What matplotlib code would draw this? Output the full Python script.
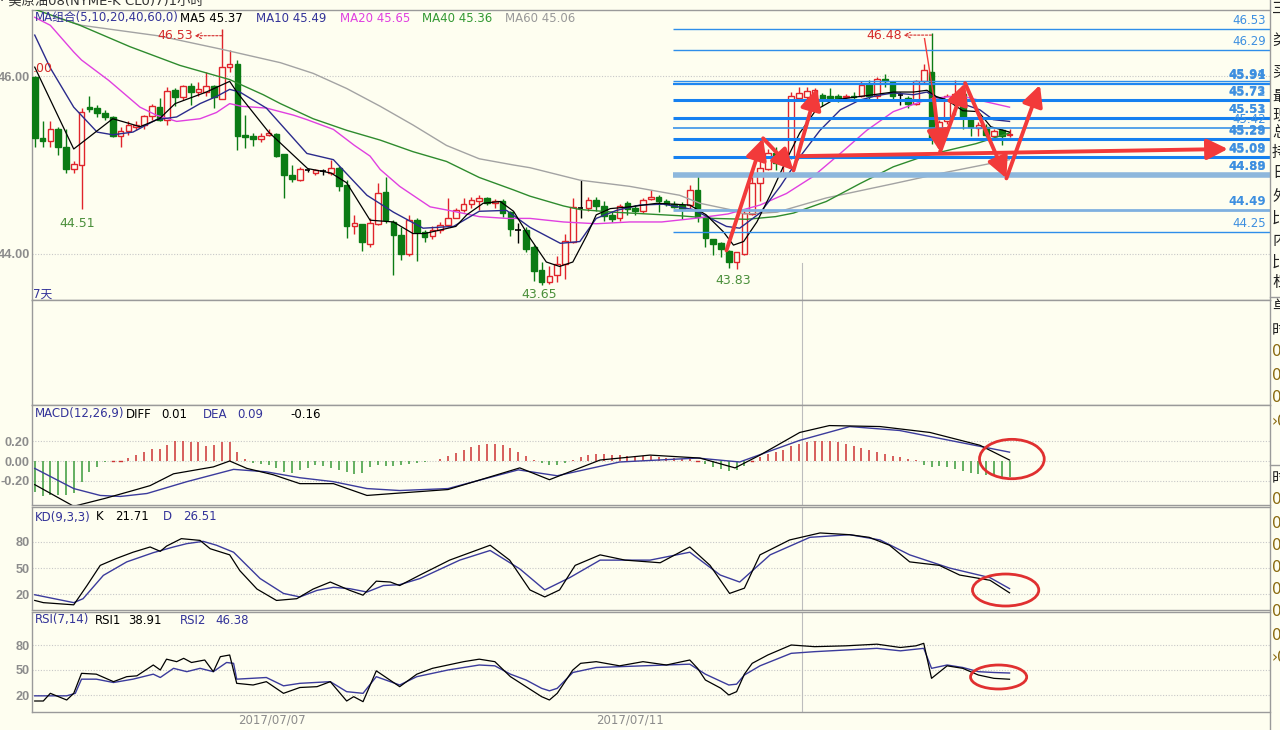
import matplotlib
matplotlib.use("Agg")
import matplotlib.pyplot as plt
from matplotlib.patches import Rectangle, Ellipse
from matplotlib.lines import Line2D

plt.rcParams["font.family"] = ["DejaVu Sans", "Noto Sans CJK SC"]

# ---------------- data ----------------
opens = [45.99,45.30,45.27,45.41,45.20,44.96,45.00,45.65,45.64,45.59,
45.54,45.33,45.38,45.43,45.45,45.55,45.65,45.51,45.84,45.76,
45.89,45.82,45.82,45.89,45.74,46.10,46.14,45.34,45.33,45.29,
45.34,45.35,45.12,44.89,44.83,44.94,44.91,44.93,44.91,44.97,
44.78,44.31,44.34,44.11,44.34,44.70,44.36,44.21,44.00,44.38,
44.25,44.20,44.27,44.33,44.41,44.49,44.56,44.60,44.63,44.57,
44.59,44.47,44.27,44.27,44.08,43.82,43.69,43.76,43.89,44.14,
44.52,44.52,44.61,44.54,44.44,44.40,44.57,44.52,44.48,44.62,
44.64,44.59,44.56,44.55,44.55,44.72,44.42,44.17,44.12,44.03,
43.91,44.00,44.45,44.80,44.96,45.13,45.03,45.09,45.75,45.76,
45.78,45.79,45.77,45.77,45.76,45.77,45.78,45.91,45.77,45.97,
45.93,45.79,45.75,45.69,45.94,46.05,45.30,45.49,45.75,45.80,
45.52,45.42,45.43,45.33,45.39,45.34]
highs = [46.00,45.49,45.49,45.43,45.41,45.04,45.64,45.78,45.67,45.62,
45.55,45.43,45.49,45.49,45.56,45.69,45.75,45.88,45.86,45.90,
45.92,45.93,46.05,45.90,46.53,46.29,46.18,45.56,45.36,45.36,
45.41,45.36,45.12,45.00,44.98,44.96,44.96,44.95,45.06,44.99,
44.83,44.44,44.34,44.40,44.80,44.86,44.38,44.30,44.44,44.40,
44.27,44.31,44.36,44.63,44.52,44.63,44.64,44.66,44.64,44.62,
44.62,44.48,44.35,44.30,44.10,43.91,43.86,43.98,44.22,44.63,
44.83,44.64,44.64,44.60,44.48,44.56,44.59,44.55,44.63,44.72,
44.66,44.62,44.59,44.58,44.78,44.89,44.44,44.17,44.14,44.04,
44.00,44.51,44.92,45.04,45.18,45.20,45.13,45.82,45.88,45.88,
45.87,45.81,45.87,45.80,45.80,45.82,45.94,45.95,45.99,46.02,
45.94,45.82,45.78,45.96,46.14,46.48,45.51,45.80,45.95,45.84,
45.54,45.48,45.46,45.40,45.41,45.40]
lows = [45.20,45.20,45.20,45.11,44.91,44.91,44.51,45.60,45.54,45.51,
45.31,45.20,45.34,45.39,45.41,45.51,45.49,45.45,45.66,45.73,
45.67,45.77,45.77,45.64,45.74,46.04,45.17,45.19,45.21,45.26,
45.33,45.09,44.63,44.81,44.82,44.92,44.89,44.89,44.89,44.71,
44.18,44.23,44.03,44.08,44.33,44.35,43.76,43.93,43.98,43.92,
44.13,44.17,44.24,44.30,44.40,44.47,44.52,44.50,44.55,44.52,
44.42,44.20,44.12,44.02,43.70,43.65,43.66,43.68,43.72,44.12,
44.40,44.48,44.48,44.37,44.36,44.37,44.44,44.44,44.46,44.61,
44.47,44.54,44.52,44.39,44.52,44.36,44.08,43.99,43.97,43.84,
43.83,43.99,44.44,44.59,44.94,44.94,44.89,45.07,45.72,45.73,
45.75,45.66,45.73,45.71,45.73,45.74,45.76,45.74,45.74,45.88,
45.72,45.67,45.64,45.68,45.92,45.24,45.24,45.46,45.56,45.41,
45.33,45.33,45.32,45.30,45.22,45.32]
closes = [45.30,45.27,45.41,45.20,44.96,45.01,45.60,45.63,45.59,45.54,
45.33,45.38,45.45,45.45,45.55,45.66,45.51,45.83,45.76,45.89,
45.82,45.85,45.89,45.76,46.10,46.14,45.33,45.31,45.29,45.33,
45.36,45.10,44.89,44.84,44.96,44.94,44.94,44.93,44.97,44.76,
44.31,44.35,44.13,44.35,44.69,44.38,44.21,44.00,44.38,44.25,
44.19,44.27,44.33,44.40,44.49,44.56,44.61,44.63,44.57,44.60,
44.46,44.28,44.27,44.06,43.81,43.69,43.75,43.89,44.15,44.53,
44.52,44.61,44.54,44.43,44.39,44.54,44.51,44.48,44.61,44.64,
44.59,44.56,44.53,44.51,44.72,44.42,44.18,44.11,44.06,43.91,
44.02,44.46,44.80,44.97,45.13,45.02,45.10,45.78,45.81,45.83,
45.84,45.74,45.75,45.74,45.78,45.76,45.90,45.77,45.97,45.94,
45.77,45.79,45.69,45.94,46.07,45.30,45.48,45.78,45.80,45.54,
45.43,45.45,45.34,45.38,45.33,45.35]

ma5_x = [0,5,10,12,13.5,16,18,22,25,26,30,35,38,40,43,46,48.5,50,54,55.4,57.5,59.7,61.4,63.5,65.6,67.3,69,70.8,72,73.8,76.3,79.8,84,86.1,88.3,89.6,90.9,92.6,94.3,96.4,98.1,100.2,102.4,105.8,110.1,112.7,114.4,115.6,117,119,121,122.6,125]
ma5_y = [46.10,45.18,45.52,45.47,45.43,45.52,45.69,45.82,45.94,45.81,45.37,44.96,44.91,44.80,44.38,44.36,44.23,44.23,44.31,44.44,44.57,44.59,44.48,44.18,43.91,43.86,43.91,44.21,44.44,44.51,44.53,44.57,44.55,44.44,44.25,44.10,44.14,44.36,44.66,45.06,45.36,45.62,45.73,45.77,45.82,45.82,45.84,45.77,45.73,45.61,45.60,45.43,45.37]
ma10_x = [0,2,5,8,10,12.6,15.6,18.2,21.2,23.3,25,26.3,29.7,34.9,38.3,42.6,46,49.8,53.7,57,60.5,63.5,67.4,69.9,72,74.6,77.6,80.6,84.4,88.7,90.4,93,95.6,98.1,100.7,103.3,105.8,108,110.1,112.7,114.4,115.6,118.6,121.2,122.9,125]
ma10_y = [46.46,46.09,45.65,45.37,45.34,45.37,45.51,45.54,45.69,45.77,45.85,45.82,45.64,45.13,45.06,44.66,44.47,44.29,44.31,44.48,44.49,44.30,44.12,44.14,44.40,44.49,44.55,44.56,44.50,44.31,44.29,44.46,44.76,45.09,45.39,45.62,45.73,45.78,45.81,45.79,45.82,45.76,45.70,45.62,45.51,45.49]
ma20_x = [0,2,5,6,9.5,13.5,15.6,18.2,21.2,23.3,25,26.5,29.7,33.2,34.9,38.3,41,43,44.3,46.8,50.7,53.7,57,60.5,63.5,67.8,72,76.3,80.4,84.6,88.9,93,96.4,99.8,103.3,106.7,110.1,113.6,115.3,118.6,122,125]
ma20_y = [46.66,46.57,46.27,46.18,45.95,45.65,45.56,45.49,45.52,45.59,45.69,45.66,45.64,45.56,45.51,45.40,45.22,45.10,44.95,44.76,44.53,44.48,44.42,44.40,44.40,44.36,44.34,44.36,44.36,44.40,44.45,44.55,44.68,44.87,45.13,45.39,45.60,45.71,45.75,45.78,45.71,45.65]
ma40_x = [0,5.8,12.2,18.6,25,29.3,31.5,35.7,40,44.3,48.5,52.8,57,61.4,63.5,67.8,69.9,74.2,78.5,82.7,87,91.3,95,97.3,101.5,105.8,110.1,114.4,116.4,120.7,125]
ma40_y = [46.75,46.57,46.33,46.12,45.96,45.79,45.69,45.52,45.39,45.28,45.15,45.04,44.86,44.72,44.65,44.54,44.50,44.47,44.45,44.43,44.40,44.39,44.42,44.46,44.59,44.79,44.98,45.11,45.15,45.24,45.36]
ma60_x = [3,6,16,24,31.5,35.7,40,44.3,48.5,52.8,57,61.4,63.5,69.9,76.3,82.7,85.3,89.1,91,93.4,95.2,101.5,110.1,116.4,125]
ma60_y = [46.65,46.57,46.45,46.30,46.15,46.03,45.86,45.66,45.45,45.22,45.07,45.00,44.97,44.83,44.76,44.66,44.57,44.50,44.45,44.46,44.47,44.63,44.79,44.91,45.06]

macd_hist = [-0.31,-0.36,-0.35,-0.35,-0.35,-0.33,-0.21,-0.11,-0.06,-0.01,
0.0,0.0,0.03,0.06,0.095,0.12,0.12,0.16,0.20,0.20,
0.19,0.19,0.15,0.16,0.19,0.19,0.09,0.02,-0.017,-0.03,
-0.04,-0.075,-0.11,-0.12,-0.09,-0.075,-0.04,-0.05,-0.075,-0.09,
-0.11,-0.13,-0.12,-0.06,-0.04,-0.047,-0.05,-0.04,-0.03,-0.02,
-0.01,0.005,0.02,0.05,0.08,0.11,0.14,0.16,0.17,0.17,
0.16,0.13,0.09,0.05,0.01,-0.02,-0.04,-0.04,-0.02,0.01,
0.04,0.06,0.07,0.07,0.06,0.06,0.05,0.05,0.05,0.05,
0.04,0.03,0.03,0.02,0.02,0.0,-0.03,-0.06,-0.08,-0.10,
-0.09,-0.05,0.0,0.04,0.07,0.09,0.11,0.15,0.17,0.19,
0.20,0.20,0.20,0.19,0.17,0.15,0.13,0.11,0.09,0.07,
0.05,0.04,0.02,0.01,-0.04,-0.06,-0.05,-0.06,-0.08,-0.10,
-0.12,-0.13,-0.14,-0.15,-0.16,-0.16]
diff_x = [0,5,9,12.6,14.8,17.8,22.9,25,27.2,30.6,34,38.3,42.6,46,53,62.2,66,72.5,78.9,85.3,89.8,93,98.1,101.9,108.4,114.8,121.2,125]
diff_y = [-0.24,-0.46,-0.38,-0.30,-0.25,-0.13,-0.06,0.0,-0.075,-0.14,-0.23,-0.23,-0.35,-0.33,-0.29,-0.07,-0.19,0.01,0.06,0.03,-0.07,0.06,0.29,0.36,0.35,0.29,0.16,0.01]
dea_x = [0,5,8.4,11,14.4,19.5,25.5,29.7,34,38.3,42.6,46.8,53,62,67,75,85,90.4,98.1,104.5,110.9,117.3,125]
dea_y = [-0.075,-0.28,-0.35,-0.36,-0.33,-0.21,-0.085,-0.11,-0.17,-0.21,-0.28,-0.30,-0.28,-0.09,-0.15,-0.01,0.03,-0.01,0.21,0.35,0.31,0.21,0.09]

k_x = [0,1.1,5,6.7,8.4,10.5,12.6,14.8,16.1,16.9,18.8,21.2,22.5,25,26.3,28.5,31,33.6,35.7,37.9,40.4,42.1,43.8,45.6,46.8,49.4,53.2,58.4,60.9,63.5,65.4,67.3,69.3,72.5,75.7,80.2,84,86.6,89.1,91,93,96.8,100.7,104.5,107,109.6,112.2,116,118.6,122.5,125]
k_y = [13,10.5,8,30,53,61,68,74,69,75,83.5,81.5,72,65,47,26,13,15,26,34,24.5,19,35,34,30,42,59,76,59,25,17,25,53,65,59,56,74,53,21,27,65,82,90,88,85,76,57,53,42,36,21.7]
d_x = [0,5,6.2,8.8,11.8,15.2,17.8,19.5,21.6,23.3,25.5,28.9,31.9,34,36.2,38.3,40.4,42.6,44.7,46.8,49.4,54.5,58.4,62.2,65.4,68.6,72.5,78.9,84,87.9,90.4,94.3,99.4,104.5,108.4,112.2,117.3,122.5,125]
d_y = [19.5,10.5,15,41.6,57,67.5,74,77.8,80.4,76,68,38,21,17,24.5,28,26.4,22.6,30,31,38,59,70,49,25,39,59,59,68,42,34,65,85,88,82,65,50,39,26.5]

rsi1_x = [0,1.1,2,4.1,5,6,7.9,10.1,11.8,13.1,15.2,16.1,16.9,18.2,19.1,20.1,21.8,22.9,23.8,25,25.9,28,29.7,31.9,34,36.2,37.9,40,40.9,42.1,43.8,46.8,49,51,53,55,57,59,61,63,65,66,67,69,70,72,75,78,81,84,85,86,88,89,90,91,92,94,97,100,104,108,111,113,114,115,117,119,121,123,125]
rsi1_y = [12.8,12.8,22,14,22,46,45,36,42,43,56,50,63,60,64,59,62,48,66,68,34,32,36,22,29,30,36,12.8,18,12,49,30,45,52,56,60,63,60,42,30,18,14,22,50,58,60,55,60,56,62,52,38,28,20,24,45,58,68,80,78,79,81,77,79,82,40,55,52,44,40,38.91]
rsi2_x = [0,4.1,5.2,6,7.9,10.1,12.6,15.2,16.1,17.8,19.5,21.2,22.9,24.6,25.5,25.9,29.7,31.9,34,37.9,40,42.1,43.8,46.8,49,53,57,59,61,63,65,66,67,69,72,78,84,86,89,90,91,93,97,100,104,108,111,114,115,117,119,121,123,125]
rsi2_y = [19,19,22,39,39,35,39,45,41,52,48,52,48,59,58,39,41,31,34,36,24,22,42,32,42,50,56,55,45,38,28,25,28,47,53,55,57,45,32,33,44,55,70,72,74,76,73,76,52,56,53,48,47,46.38]

level_prices = [46.53, 46.29, 45.94, 45.91, 45.73, 45.53, 45.42, 45.29, 45.09, 44.89, 44.49, 44.25]
level_labels = ["46.53", "46.29", "45.94", "45.91", "45.73", "45.53", "45.42", "45.29", "45.09", "44.89", "44.49", "44.25"]
level_twins = ["", "", "", "", "45.72", "45.51", "", "45.28", "45.08", "44.88", "", ""]

arrow_paths = [((88.7, 44.04), (93.4, 45.30)), ((93.4, 45.30), (97.3, 44.94)),
               ((97.3, 44.94), (100.3, 45.86)), ((98.1, 45.10), (153.0, 45.18)),
               ((115.3, 45.75), (116.1, 45.15)), ((116.1, 45.15), (119.3, 45.92)),
               ((119.3, 45.92), (124.6, 44.85)), ((124.6, 44.85), (128.9, 45.90))]

date_labels = ["2017/07/07", "2017/07/11"]
sidebar_chars = ["三", "类", "买", "最", "现", "总", "持", "日", "外", "比", "内", "比", "杠",
                 "单", "时", "0", "0", "0", "›0", "时", "0", "0", "0", "0", "0", "0", "0", "›0"]

# ---------------- figure ----------------
W, H = 1280, 730
BG = "#FEFEF0"
UP = "#E0242B"
DN = "#0B7B14"
GRID = "#C8C8C8"
AXC = "#8C8C8C"
NAVY = "#333399"

fig = plt.figure(figsize=(W / 100, H / 100), dpi=100, facecolor=BG)


def rect(x0, y0, x1, y1):
    return [x0 / W, 1 - y1 / H, (x1 - x0) / W, (y1 - y0) / H]


def fx(x):
    return x / W


def fy(y):
    return 1 - y / H


XL = (-0.35, 158.4)


def style(ax, ylim, ticks, labels):
    ax.set_facecolor(BG)
    ax.set_xlim(*XL)
    ax.set_ylim(*ylim)
    ax.set_xticks([])
    ax.set_yticks(ticks)
    ax.set_yticklabels(labels)
    ax.tick_params(axis="y", length=0, pad=1.5, labelsize=9.2, labelcolor=AXC)
    for t in ax.get_yticklabels():
        t.set_fontweight("bold")
        t.set_family(["Liberation Sans", "DejaVu Sans"])
    for s in ax.spines.values():
        s.set_color("#9A9A9A")
        s.set_linewidth(1.0)
    ax.spines["right"].set_visible(False)
    for t in ticks:
        ax.axhline(t, color=GRID, lw=0.8, ls=(0, (1, 1.5)), zorder=0)


ax = fig.add_axes(rect(32, 10, 1270, 300))
axv = fig.add_axes(rect(32, 300, 1270, 405))
axm = fig.add_axes(rect(32, 405, 1270, 505))
axk = fig.add_axes(rect(32, 507, 1270, 610))
axr = fig.add_axes(rect(32, 612, 1270, 712))

style(ax, (43.483, 46.742), [46.0, 44.0], ["46.00", "44.00"])
style(axv, (0, 1), [], [])
style(axm, (-0.447, 0.569), [0.2, 0.0, -0.2], ["0.20", "0.00", "-0.20"])
style(axk, (2.1, 119.6), [80, 50, 20], ["80", "50", "20"])
style(axr, (-0.4, 119.6), [80, 50, 20], ["80", "50", "20"])

# separator line in lower panels
for a in (axv, axm, axk, axr):
    a.axvline(98.4, color="#BDBDBD", lw=0.8, zorder=0)
ax.plot([98.4, 98.4], [43.483, 43.9], color="#BDBDBD", lw=0.8, zorder=0)

# ---- candles ----
bw = 0.72
for i in range(len(closes)):
    o, h, l, c = opens[i], highs[i], lows[i], closes[i]
    if abs(c - o) < 1e-9:
        ax.vlines(i, l, h, color="black", lw=1, zorder=3)
        ax.hlines(c, i - bw / 2, i + bw / 2, color="black", lw=1.2, zorder=3)
    elif c > o:
        ax.vlines(i, l, h, color=UP, lw=1, zorder=3)
        ax.add_patch(Rectangle((i - bw / 2, o), bw, c - o, facecolor=BG,
                               edgecolor=UP, lw=1, zorder=4))
    else:
        ax.vlines(i, l, h, color=DN, lw=1, zorder=3)
        ax.add_patch(Rectangle((i - bw / 2, c), bw, o - c, facecolor=DN,
                               edgecolor=DN, lw=1, zorder=4))

# ---- moving averages ----
ax.plot(ma60_x, ma60_y, color="#A3A3A3", lw=1, zorder=5)
ax.plot(ma40_x, ma40_y, color="#2E8B2E", lw=1, zorder=5)
ax.plot(ma20_x, ma20_y, color="#E040E0", lw=1, zorder=5)
ax.plot(ma10_x, ma10_y, color="#2B2B8C", lw=1, zorder=5)
ax.plot(ma5_x, ma5_y, color="black", lw=0.9, zorder=5)

# ---- horizontal levels ----
lv_x0 = 81.8
lv_styles = {
    "46.53": (1.0, "#2F8EEA"), "46.29": (1.0, "#2F8EEA"), "45.94": (1.0, "#2F8EEA"),
    "45.91": (1.6, "#1E86F0"), "45.73": (2.2, "#1580F0"), "45.53": (2.2, "#1580F0"),
    "45.42": (1.2, "#3A93E8"), "45.29": (2.2, "#1580F0"), "45.09": (2.2, "#1580F0"),
    "44.89": (4.0, "#8DB7DC"), "44.49": (2.0, "#7FB0E0"), "44.25": (1.0, "#2F8EEA"),
}
for p, lab, twin in zip(level_prices, level_labels, level_twins):
    lw_, col = lv_styles[lab]
    ax.plot([lv_x0, XL[1]], [p, p], color=col, lw=lw_, zorder=6, solid_capstyle="butt")
    bold = lw_ >= 1.6
    if lab != "45.94":
        ax.annotate(lab, xy=(XL[1], p), xytext=(-3, 1.5), textcoords="offset points",
                    ha="right", va="bottom", fontsize=8.5, color="#3D8FE0",
                    fontweight="bold" if bold else "normal", zorder=8)
    if twin:
        ax.annotate(twin, xy=(XL[1], p), xytext=(-3, 1.0), textcoords="offset points",
                    ha="right", va="bottom", fontsize=8.5, color="#3D8FE0",
                    fontweight="bold", zorder=8, alpha=0.8)
ax.annotate("45.94", xy=(XL[1], 45.91), xytext=(-3, 2.5), textcoords="offset points",
            ha="right", va="bottom", fontsize=8.5, color="#3D8FE0", fontweight="bold", zorder=8)

# ---- red arrows ----
RED = "#F23A3A"
for (x0, y0), (x1, y1) in arrow_paths:
    ax.annotate("", xy=(x1, y1), xytext=(x0, y0), zorder=9,
                arrowprops=dict(arrowstyle="-|>,head_length=0.9,head_width=0.45",
                                color=RED, lw=2.8, mutation_scale=14,
                                shrinkA=0, shrinkB=0))
ax.plot([114.1, 115.3], [46.42, 45.75], color=RED, lw=1.0, zorder=9)

# ---- high / low labels ----
ax.text(20.3, 46.453, "46.53", color="#D42A2A", fontsize=9, ha="right", va="center", zorder=8)
ax.annotate("", xy=(20.5, 46.453), xytext=(24, 46.453), zorder=8,
            arrowprops=dict(arrowstyle="->", color="#D42A2A", lw=0.8, ls=(0, (2, 1.5)),
                            shrinkA=0, shrinkB=0))
ax.plot([24, 24], [46.453, 46.53], color="#D42A2A", lw=0.8, ls=(0, (2, 1.5)), zorder=8)
ax.text(111.2, 46.453, "46.48", color="#D42A2A", fontsize=9, ha="right", va="center", zorder=8)
ax.annotate("", xy=(111.4, 46.46), xytext=(115, 46.46), zorder=8,
            arrowprops=dict(arrowstyle="->", color="#D42A2A", lw=0.8, ls=(0, (2, 1.5)),
                            shrinkA=0, shrinkB=0))
ax.text(5.5, 44.42, "44.51", color="#4A8F3A", fontsize=9, ha="center", va="top", zorder=8)
ax.text(64.7, 43.62, "43.65", color="#4A8F3A", fontsize=9, ha="center", va="top", zorder=8)
ax.text(89.6, 43.78, "43.83", color="#4A8F3A", fontsize=9, ha="center", va="top", zorder=8)

# ---- MACD ----
for i, v in enumerate(macd_hist):
    if abs(v) < 0.004:
        axm.plot([i - 0.15, i + 0.15], [0, 0], color="#CC3333" if v >= 0 else "#3A9A3A", lw=1)
        continue
    axm.vlines(i, 0, v, color="#CC3333" if v > 0 else "#3A9A3A", lw=1.1)
axm.plot(dea_x, dea_y, color="#3B3B9C", lw=1)
axm.plot(diff_x, diff_y, color="black", lw=0.9)

# ---- KD ----
axk.plot(d_x, d_y, color="#3B3B9C", lw=1)
axk.plot(k_x, k_y, color="black", lw=0.9)

# ---- RSI ----
axr.plot(rsi2_x, rsi2_y, color="#3B3B9C", lw=1)
axr.plot(rsi1_x, rsi1_y, color="black", lw=0.9)

# ---- ellipses ----
axm.add_patch(Ellipse((125.3, 0.02), 8.3, 0.40, fill=False, ec="#E03030", lw=2, zorder=9))
axk.add_patch(Ellipse((124.5, 24.9), 8.5, 36.5, fill=False, ec="#E03030", lw=2, zorder=9))
axr.add_patch(Ellipse((123.6, 41.6), 7.2, 28.8, fill=False, ec="#E03030", lw=2, zorder=9))

# ---- header texts ----
def ftext(x, y, s, color, size=8.5, **kw):
    fig.text(fx(x), fy(y), s, color=color, fontsize=size, va="center", ha="left", **kw)


ftext(0, 1, "· 美原油08(NYME-K CL0)7)1小时", "#333333", 9.5)
hdr = [(35, "MA组合(5,10,20,40,60,0)", NAVY), (180, "MA5 45.37", "black"),
       (256, "MA10 45.49", NAVY), (340, "MA20 45.65", "#E040E0"),
       (422, "MA40 45.36", "#339933"), (505, "MA60 45.06", "#999999")]
for x, s, c in hdr:
    ftext(x, 18, s, c)
ftext(33, 68, ".00", "#D42A2A", 9)
ftext(33, 294, "7天", NAVY, 8.5)

ftext(35, 414, "MACD(12,26,9)", NAVY)
ftext(126, 414, "DIFF", "black")
ftext(161, 414, "0.01", "black")
ftext(203, 414, "DEA", NAVY)
ftext(237, 414, "0.09", NAVY)
ftext(290, 414, "-0.16", "black")

ftext(35, 517, "KD(9,3,3)", NAVY)
ftext(96, 517, "K", "black")
ftext(115, 517, "21.71", "black")
ftext(163, 517, "D", NAVY)
ftext(183, 517, "26.51", NAVY)

ftext(35, 620, "RSI(7,14)", NAVY)
ftext(95, 620, "RSI1", "black")
ftext(128, 620, "38.91", "black")
ftext(180, 620, "RSI2", NAVY)
ftext(215, 620, "46.38", NAVY)

fig.text(fx(272), fy(720), date_labels[0], color="#8C8C8C", fontsize=8.5, ha="center", va="center")
fig.text(fx(630), fy(720), date_labels[1], color="#8C8C8C", fontsize=8.5, ha="center", va="center")

# ---- right sidebar ----
fig.add_artist(Line2D([fx(1270), fx(1270)], [0, 1], color="#9A9A9A", lw=1))
fig.add_artist(Line2D([fx(1270), 1], [fy(297), fy(297)], color="#9A9A9A", lw=1))
fig.add_artist(Line2D([fx(1270), 1], [fy(465), fy(465)], color="#9A9A9A", lw=1))
side_y = [8, 40, 72, 97, 115, 133, 152, 173, 196, 218, 240, 262, 282,
          307, 330, 352, 375, 398, 421, 478, 500, 523, 545, 568, 590, 612, 635, 658]
for y, ch in zip(side_y, sidebar_chars):
    fig.text(fx(1272), fy(y), ch, color="#222222" if not ch.endswith("0") else "#8A6A10",
             fontsize=11, ha="left", va="center")

fig.savefig("out.png", dpi=100, facecolor=BG)
